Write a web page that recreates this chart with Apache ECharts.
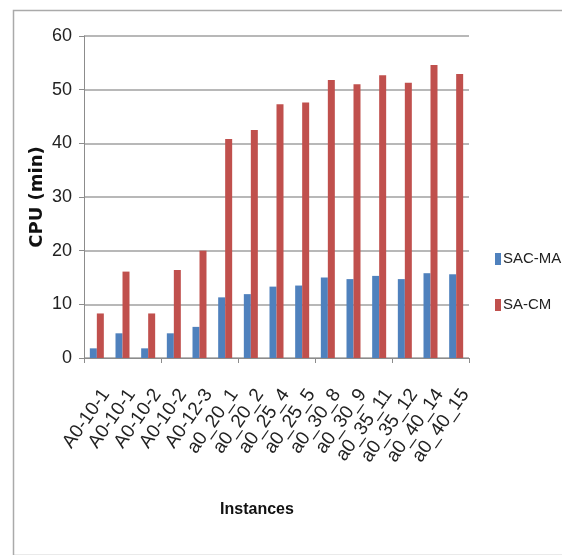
<!DOCTYPE html>
<html>
<head>
<meta charset="utf-8">
<script src="https://cdn.jsdelivr.net/npm/echarts@6/dist/echarts.min.js"></script>
<style>html,body{margin:0;padding:0;background:#fff;}#c{width:562px;height:555px;}</style>
</head>
<body>
<div id="c"></div>
<script>
var categories = ['A0-10-1','A0-10-1','A0-10-2','A0-10-2','A0-12-3','a0_20_1','a0_20_2','a0_25_4','a0_25_5','a0_30_8','a0_30_9','a0_35_11','a0_35_12','a0_40_14','a0_40_15'];
var sacMA = [1.8, 4.6, 1.8, 4.6, 5.8, 11.3, 11.9, 13.3, 13.5, 15.0, 14.7, 15.3, 14.7, 15.8, 15.6];
var saCM = [8.3, 16.1, 8.3, 16.4, 20.0, 40.8, 42.5, 47.3, 47.6, 51.8, 51.0, 52.7, 51.3, 54.6, 52.9];
var yTicks = [0, 10, 20, 30, 40, 50, 60];

var FONT = "'Liberation Sans', Arial, sans-serif";
var chart = echarts.init(document.getElementById('c'), null, {renderer: 'canvas'});
chart.setOption({
  animation: false,
  backgroundColor: '#ffffff',
  color: ['#4F81BD', '#C0504D'],
  graphic: [{
    type: 'rect', left: 11, top: 8, z: -1,
    shape: {width: 560, height: 545},
    style: {fill: 'none', stroke: '#aaaaaa', lineWidth: 1.5}
  }],
  grid: [
    {left: 84, right: 93, top: 36, bottom: 197, containLabel: false},
    {left: 93, right: 84, top: 36, bottom: 197, containLabel: false}
  ],
  legend: {
    orient: 'vertical', left: 490, top: 245,
    itemWidth: 6, itemHeight: 12, itemGap: 28,
    icon: 'rect',
    textStyle: {fontFamily: FONT, fontSize: 15, color: '#222', lineHeight: 18, padding: [0, 0, 0, -3]},
    data: ['SAC-MA', 'SA-CM']
  },
  xAxis: [{
    type: 'category', data: categories, gridIndex: 0,
    name: 'Instances', nameLocation: 'middle', nameGap: 144,
    nameTextStyle: {fontFamily: FONT, fontSize: 16, fontWeight: 'bold', color: '#111', padding: [0, 39, 0, 0]},
    axisLine: {lineStyle: {color: '#8c8c8c', width: 1}},
    axisTick: {show: true, alignWithLabel: false, length: 5, lineStyle: {color: '#8c8c8c'}},
    axisLabel: {show: false}
  }, {
    type: 'category', data: categories, gridIndex: 1, position: 'bottom',
    axisLine: {show: false}, axisTick: {show: false},
    axisLabel: {interval: 0, rotate: 55, margin: 33, fontFamily: FONT, fontSize: 19, color: '#222'}
  }],
  yAxis: [{
    type: 'value', min: 0, max: 60, interval: 10, gridIndex: 0,
    name: 'CPU (min)', nameLocation: 'middle', nameGap: 38, nameRotate: 90, nameMoveOverlap: false,
    nameTextStyle: {fontFamily: "'DejaVu Sans', sans-serif", fontSize: 18, fontWeight: 'bold', color: '#111'},
    axisLine: {show: true, lineStyle: {color: '#8c8c8c', width: 1}},
    axisTick: {show: true, length: 5, lineStyle: {color: '#8c8c8c'}},
    splitLine: {lineStyle: {color: '#a0a0a0', width: 1.5}},
    axisLabel: {
      margin: 12, fontFamily: FONT, fontSize: 18, color: '#222',
      formatter: function (v) { return yTicks.indexOf(v) >= 0 ? String(v) : ''; }
    }
  }, {
    type: 'value', min: 0, max: 60, gridIndex: 1, show: false
  }],
  series: [
    {name: 'SAC-MA', type: 'bar', data: sacMA, barWidth: 7, barGap: '0%'},
    {name: 'SA-CM', type: 'bar', data: saCM, barWidth: 7, barGap: '0%'}
  ]
});
</script>
</body>
</html>
